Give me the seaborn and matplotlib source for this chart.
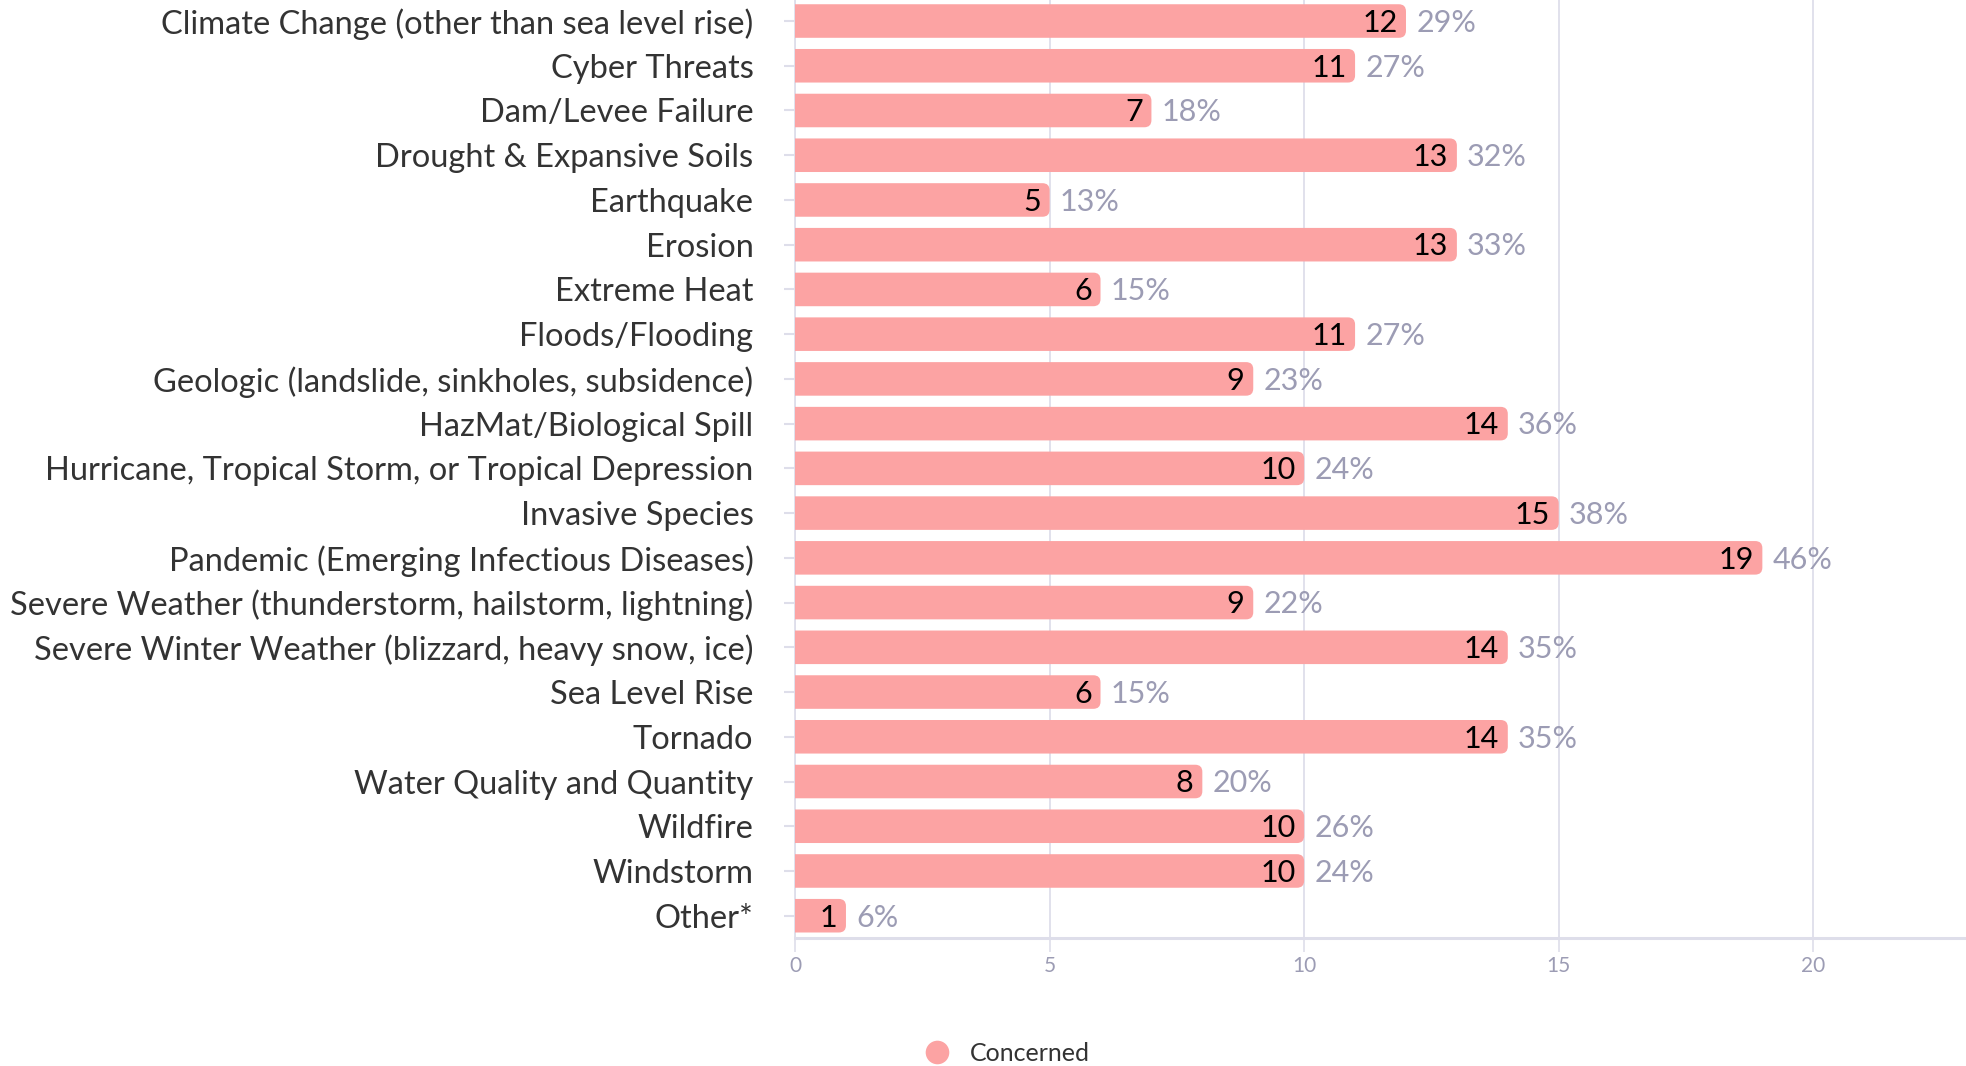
import matplotlib
matplotlib.use("Agg")
import matplotlib.pyplot as plt
from matplotlib.patches import FancyBboxPatch
from matplotlib.lines import Line2D
import seaborn as sns
import pandas as pd

hazards = [
    "Climate Change (other than sea level rise)",
    "Cyber Threats",
    "Dam/Levee Failure",
    "Drought & Expansive Soils",
    "Earthquake",
    "Erosion",
    "Extreme Heat",
    "Floods/Flooding",
    "Geologic (landslide, sinkholes, subsidence)",
    "HazMat/Biological Spill",
    "Hurricane, Tropical Storm, or Tropical Depression",
    "Invasive Species",
    "Pandemic (Emerging Infectious Diseases)",
    "Severe Weather (thunderstorm, hailstorm, lightning)",
    "Severe Winter Weather (blizzard, heavy snow, ice)",
    "Sea Level Rise",
    "Tornado",
    "Water Quality and Quantity",
    "Wildfire",
    "Windstorm",
    "Other*",
]
concerned = [12, 11, 7, 13, 5, 13, 6, 11, 9, 14, 10, 15, 19, 9, 14, 6, 14, 8, 10, 10, 1]
percents = [29, 27, 18, 32, 13, 33, 15, 27, 23, 36, 24, 38, 46, 22, 35, 15, 35, 20, 26, 24, 6]
x_ticks = [0, 5, 10, 15, 20]

BAR = "#fca3a3"
GRID = "#dedeea"
PCT = "#9c9cb4"

sns.set_style("white")
plt.rcParams["font.family"] = ["Lato", "DejaVu Sans"]

df = pd.DataFrame({"hazard": hazards, "count": concerned, "pct": percents})

fig = plt.figure(figsize=(19.66, 10.66), dpi=100)
ax = fig.add_axes([0.4044, 0.12, 0.5956, 0.88])

sns.barplot(data=df, x="count", y="hazard", color=BAR, width=0.75,
            saturation=1, ax=ax, zorder=3)

ax.set_xlim(0, 23)
ax.set_ylim(20.5, -0.47)

# rounded bar ends (left end gets clipped at the axis)
fig.canvas.draw()
px_x = ax.transData.transform((1, 0))[0] - ax.transData.transform((0, 0))[0]
px_y = abs(ax.transData.transform((0, 1))[1] - ax.transData.transform((0, 0))[1])
for p in list(ax.patches):
    x0, y0, w, h = p.get_x(), p.get_y(), p.get_width(), p.get_height()
    p.set_visible(False)
    fb = FancyBboxPatch((x0 - 0.3, y0), w + 0.3, h,
                        boxstyle="round,pad=0,rounding_size=0.14",
                        mutation_aspect=px_x / px_y,
                        facecolor=BAR, edgecolor="none", zorder=3)
    ax.add_patch(fb)

for i, (v, pc) in enumerate(zip(concerned, percents)):
    ax.text(v - 0.17, i + 0.04, str(v), ha="right", va="center", fontsize=22,
            color="black", zorder=4)
    ax.text(v + 0.2, i + 0.04, f"{pc}%", ha="left", va="center", fontsize=22,
            color=PCT, zorder=4)

ax.set_xticks(x_ticks)
ax.xaxis.grid(True, color=GRID, linewidth=1.3, zorder=0)
ax.yaxis.grid(False)
for s in ["top", "right"]:
    ax.spines[s].set_visible(False)
ax.spines["left"].set_color(GRID)
ax.spines["left"].set_linewidth(1.3)
ax.spines["bottom"].set_color(GRID)
ax.spines["bottom"].set_linewidth(2.2)

ax.tick_params(axis="y", length=8, width=1.5, color=GRID, pad=22,
               labelsize=23.5, labelcolor="#333333", left=True)
ax.tick_params(axis="x", length=10, width=1.2, color=GRID, pad=3,
               labelsize=15, labelcolor=PCT, bottom=True)
ax.set_xlabel("")
ax.set_ylabel("")

handle = Line2D([], [], marker="o", linestyle="none", markersize=17,
                markerfacecolor=BAR, markeredgecolor="none")
fig.legend([handle], ["Concerned"], loc="center", bbox_to_anchor=(0.509, 0.012),
           frameon=False, fontsize=18, handletextpad=0.3,
           labelcolor="#333333")

fig.savefig("out.png", dpi=100)
